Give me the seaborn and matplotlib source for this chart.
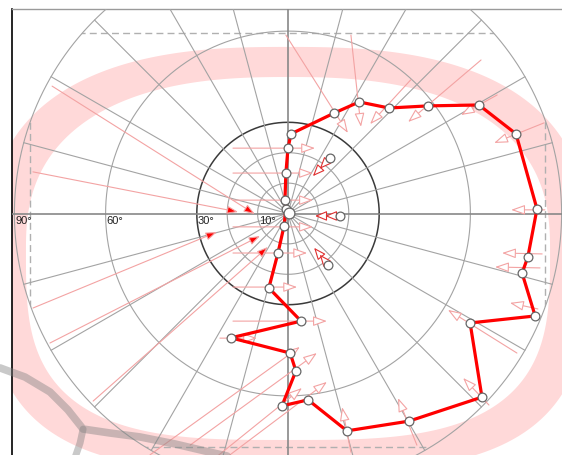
import numpy as np
import pandas as pd
import matplotlib
matplotlib.use("Agg")
import matplotlib.pyplot as plt
import seaborn as sns
from matplotlib.path import Path
from matplotlib.patches import PathPatch, Rectangle, Circle

# Sky track in projected coordinates (degrees from zenith), drawn as a closed loop
track_x = [1.0, 15.1, 23.4, 33.2, 46.1, 62.8, 75.0, 81.9, 78.9, 77.0, 81.3, 59.9, 63.8, 39.8,
           19.4, 6.6, -2.0, 2.6, 0.7, -18.8, 4.3, -6.3, -3.3, -1.3, -0.7, -1.0, -0.7, 0.0]
track_y = [26.2, 33.0, 36.7, 34.7, 35.4, 35.7, 26.2, 1.5, -14.3, -19.6, -33.7, -36.0, -60.4, -68.3,
           -71.5, -61.3, -63.3, -51.8, -45.9, -40.9, -35.4, -24.5, -13.0, -4.1, 1.5, 4.4, 13.3, 21.5]

# Correction vectors attached to the track points (tail -> head)
vec_x0 = [-0.7, 20.7, 40.4, 63.5, 68.8, 84.2, 84.5, 83.6, 82.9, 82.2, 75.3, 66.1, 42.4, 20.7,
          -19.1, -28.9, -32.2, -45.4, -22.4, -18.1, -18.1, -18.1, -18.1, -18.1, -18.1, -18.1]
vec_y0 = [58.7, 58.7, 44.0, 50.5, 39.0, 29.8, 1.2, -13.3, -17.9, -31.4, -45.9, -63.0, -76.2, -78.5,
          -79.4, -84.4, -76.2, -79.4, -41.0, -35.4, -24.2, -13.0, -4.4, 4.4, 13.3, 21.5]
vec_x1 = [19.7, 24.0, 27.0, 39.5, 56.9, 67.8, 73.4, 70.4, 68.1, 73.0, 52.6, 57.6, 36.2, 17.8,
          12.8, 4.6, 9.5, 3.9, -10.2, 12.8, 3.0, 6.3, 8.2, 8.2, 8.2, 8.9]
vec_y1 = [26.5, 28.5, 29.4, 30.1, 32.4, 23.2, 1.2, -13.0, -17.6, -29.4, -31.7, -54.1, -60.7, -63.7,
          -55.4, -57.4, -45.9, -43.9, -41.0, -35.4, -24.2, -13.0, -4.4, 4.4, 13.3, 21.5]

# Long vectors converging on the zenith
long_x0 = [-83.9, -77.6, -83.9, -78.3, -64.1]
long_y0 = [13.7, 41.9, -31.1, -42.6, -61.7]
long_x1 = [-16.4, -10.9, -23.4, -9.2, -6.6]
long_y1 = [0.5, -0.2, -6.1, -7.4, -11.0]

# Reference targets and the direction to the zenith
target_x = [13.8, 17.1, 13.2]
target_y = [18.3, -0.8, -16.9]
target_hx = [8.2, 8.9, 8.6]
target_hy = [12.3, -0.8, -11.3]

ring_radii = [10, 20, 60, 90]
dark_ring = 30
ring_labels = [90, 60, 30, 10]
spoke_angles = list(range(0, 360, 15))

# Field-of-view frame (clipped to the horizon circle)
fov_x = (-85.0, 84.5)
fov_y = (-76.8, 59.3)

# Highlight band: superellipse ring, separate shapes for the upper and lower halves
band_center = (0.0, -12.0)
band_outer_up = (98.7, 66.8, 2.6)     # (a, b, n)
band_inner_up = (86.2, 56.9, 2.5)
band_outer_low = (98.7, 73.0, 3.2)
band_inner_low = (86.2, 62.5, 3.2)

# Pen stroke across the lower left
stroke_x = [-94.7, -86.5, -78.3, -72.4, -67.4, -58.6, -48.7, -37.2, -25.7, -14.1]
stroke_y = [-50.8, -53.8, -58.7, -64.6, -70.9, -72.2, -73.5, -75.8, -78.5, -81.1]
stroke_bx = [-67.4, -68.4, -70.1]
stroke_by = [-70.9, -75.5, -80.4]

RED = "#ff0000"
PINK = "#f3a3a3"
BAND = "#ffd9d9"
GRID = "#a3a3a3"
AXIS = "#888888"

sns.set_theme(style="white")
plt.rcParams["font.family"] = ["Liberation Sans", "DejaVu Sans"]

PX = 3.04            # pixels per degree
W, H = 562, 455
CX, CY = 288, 213.5  # zenith position in pixels
LEFT, TOP = 12, 9    # plot frame offsets in pixels

fig = plt.figure(figsize=(W / 100, H / 100), dpi=100)
ax = fig.add_axes([LEFT / W, 0, 1 - LEFT / W, (H - TOP) / H])
ax.set_xlim((LEFT - CX) / PX, (W - CX) / PX)
ax.set_ylim((CY - H) / PX, (CY - TOP) / PX)
ax.set_xticks([])
ax.set_yticks([])
for side in ("right", "bottom"):
    ax.spines[side].set_visible(False)
ax.spines["left"].set_color("black")
ax.spines["left"].set_linewidth(1.2)
ax.spines["top"].set_color("#9a9a9a")
ax.spines["top"].set_linewidth(1.0)


def half_superellipse(cx, cy, a, b, n, t0, t1, num=300):
    t = np.linspace(t0, t1, num)
    c, s = np.cos(t), np.sin(t)
    return (cx + a * np.sign(c) * np.abs(c) ** (2 / n),
            cy + b * np.sign(s) * np.abs(s) ** (2 / n))


def ring(up, low):
    x1, y1 = half_superellipse(*band_center, *up, 0, np.pi)
    x2, y2 = half_superellipse(*band_center, *low, np.pi, 2 * np.pi)
    return np.r_[x1, x2], np.r_[y1, y2]


# highlight band
ox, oy = ring(band_outer_up, band_outer_low)
ix, iy = ring(band_inner_up, band_inner_low)
verts = np.concatenate([np.column_stack([ox, oy]), np.column_stack([ix[::-1], iy[::-1]])])
codes = np.full(len(verts), Path.LINETO)
codes[0] = Path.MOVETO
codes[len(ox)] = Path.MOVETO
ax.add_patch(PathPatch(Path(verts, codes), facecolor=BAND, edgecolor="none", zorder=1))

# dashed field-of-view frame clipped by the horizon
horizon = Circle((0, 0), 90, transform=ax.transData)
fov = Rectangle((fov_x[0], fov_y[0]), fov_x[1] - fov_x[0], fov_y[1] - fov_y[0],
                fill=False, ec="#b0b0b0", lw=1.0, ls=(0, (5, 3)), zorder=2)
ax.add_patch(fov)
fov.set_clip_path(horizon)

# polar grid
theta = np.linspace(0, 2 * np.pi, 721)
for r in ring_radii:
    ax.plot(r * np.cos(theta), r * np.sin(theta), color=GRID, lw=0.8, zorder=3)
ax.plot(dark_ring * np.cos(theta), dark_ring * np.sin(theta), color="#3a3a3a", lw=1.1, zorder=3)
for ang in spoke_angles:
    if ang % 90 == 0:
        continue
    a = np.deg2rad(ang)
    ax.plot([0, 90 * np.cos(a)], [0, 90 * np.sin(a)], color=GRID, lw=0.8, zorder=3)
ax.axhline(0, color=AXIS, lw=1.2, zorder=3)
ax.axvline(0, color=AXIS, lw=1.2, zorder=3)

for r in ring_labels:
    ax.text(-r + 0.4, -0.9, f"{r}°", ha="left", va="top", fontsize=8, color="#222222", zorder=5)

# correction vectors
for x0, y0, x1, y1 in zip(vec_x0, vec_y0, vec_x1, vec_y1):
    ax.annotate("", xy=(x1, y1), xytext=(x0, y0), zorder=4,
                arrowprops=dict(arrowstyle="-|>,head_length=0.7,head_width=0.25",
                                ec=PINK, fc="white", lw=0.8, shrinkA=0, shrinkB=0))
for x0, y0, x1, y1 in zip(long_x0, long_y0, long_x1, long_y1):
    ax.annotate("", xy=(x1, y1), xytext=(x0, y0), zorder=4,
                arrowprops=dict(arrowstyle="-|>,head_length=0.55,head_width=0.2",
                                ec=PINK, fc=RED, lw=0.8, shrinkA=0, shrinkB=0))

# reference targets
for tx, ty, hx, hy in zip(target_x, target_y, target_hx, target_hy):
    for frac in (1.0, 0.6):
        ex, ey = tx + frac * (hx - tx), ty + frac * (hy - ty)
        ax.annotate("", xy=(ex, ey), xytext=(tx, ty), zorder=4,
                    arrowprops=dict(arrowstyle="-|>,head_length=0.6,head_width=0.25",
                                    ec="#e03030", fc="white", lw=0.8, shrinkA=0, shrinkB=0))
sns.scatterplot(x=target_x, y=target_y, s=40, color="white", edgecolor="#666666",
                linewidth=0.9, zorder=6, ax=ax)

# track
loop = pd.DataFrame({"x": track_x + track_x[:1], "y": track_y + track_y[:1]})
sns.lineplot(data=loop, x="x", y="y", sort=False, estimator=None, color=RED, lw=2.3,
             zorder=5, ax=ax)
sns.scatterplot(x=track_x, y=track_y, s=40, color="white", edgecolor="#666666",
                linewidth=0.9, zorder=6, ax=ax)
sns.scatterplot(x=[0.3], y=[0.2], s=60, color="white", edgecolor="#666666",
                linewidth=0.9, zorder=6, ax=ax)

# pen stroke
ax.plot(stroke_x, stroke_y, color="#808080", alpha=0.42, lw=5.5, solid_capstyle="round",
        solid_joinstyle="round", zorder=9, clip_on=False)
ax.plot(stroke_bx, stroke_by, color="#808080", alpha=0.42, lw=5, solid_capstyle="round",
        zorder=9, clip_on=False)

ax.set_xlim((LEFT - CX) / PX, (W - CX) / PX)
ax.set_ylim((CY - H) / PX, (CY - TOP) / PX)
ax.set_xlabel("")
ax.set_ylabel("")
fig.savefig("out.png", dpi=100)
